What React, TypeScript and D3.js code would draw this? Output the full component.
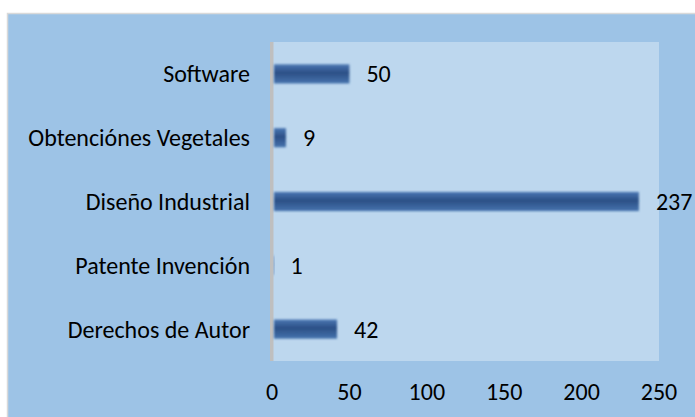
import * as d3 from 'd3';
import React, { useRef, useEffect } from 'react';

const categories = ['Software', 'Obtenciónes Vegetales', 'Diseño Industrial', 'Patente Invención', 'Derechos de Autor'];
const values = [50, 9, 237, 1, 42];
const ticks = [0, 50, 100, 150, 200, 250];

const W = 695, H = 417;
const plot = { left: 272, right: 659, top: 42, bottom: 361 };
const FONT = 'Carlito, Lato, sans-serif';

function App() {
    const ref = useRef<SVGSVGElement>(null);

    useEffect(() => {
        const svg = d3.select(ref.current);
        svg.selectAll('*').remove();

        const defs = svg.append('defs');
        const grad = defs.append('linearGradient')
            .attr('id', 'barGrad')
            .attr('x1', 0).attr('y1', 0).attr('x2', 0).attr('y2', 1);
        grad.append('stop').attr('offset', '0%').attr('stop-color', '#4a77b3');
        grad.append('stop').attr('offset', '45%').attr('stop-color', '#2c4f86');
        grad.append('stop').attr('offset', '100%').attr('stop-color', '#4674ae');
        defs.append('filter').attr('id', 'soft')
            .append('feGaussianBlur').attr('stdDeviation', 0.8);

        // chart background
        svg.append('rect')
            .attr('x', 7.5).attr('y', 13.5)
            .attr('width', W).attr('height', H)
            .attr('fill', '#9dc3e6')
            .attr('stroke', '#d9d9d9')
            .attr('stroke-width', 1.5);

        var x = d3.scaleLinear().domain([0, 250]).range([plot.left, plot.right]);
        var y = d3.scaleBand().domain(categories).range([plot.top, plot.bottom]).paddingInner(0.7).paddingOuter(0.35);

        // plot area
        svg.append('rect')
            .attr('x', plot.left - 2).attr('y', plot.top)
            .attr('width', plot.right - plot.left + 2).attr('height', plot.bottom - plot.top)
            .attr('fill', '#bdd7ee');

        // vertical axis line
        svg.append('rect')
            .attr('x', plot.left - 2).attr('y', plot.top)
            .attr('width', 3.5).attr('height', plot.bottom - plot.top)
            .attr('fill', '#bfbfbf');

        // bars
        svg.append('g').selectAll('rect')
            .data(values)
            .enter().append('rect')
            .attr('x', x(0) + 2)
            .attr('y', (d, i) => y(categories[i]))
            .attr('width', d => Math.max(0.6, x(d) - x(0) - 2))
            .attr('height', y.bandwidth())
            .attr('fill', 'url(#barGrad)')
            .attr('filter', 'url(#soft)');

        // value labels
        svg.append('g').selectAll('text')
            .data(values)
            .enter().append('text')
            .attr('x', d => x(d) + 17)
            .attr('y', (d, i) => y(categories[i]) + y.bandwidth() / 2)
            .attr('dy', '0.35em')
            .style('font-family', FONT)
            .style('font-size', '24px')
            .attr('fill', '#000')
            .text(d => d);

        // category labels
        svg.append('g').selectAll('text')
            .data(categories)
            .enter().append('text')
            .attr('x', plot.left - 22)
            .attr('y', d => y(d) + y.bandwidth() / 2)
            .attr('dy', '0.35em')
            .attr('text-anchor', 'end')
            .style('font-family', FONT)
            .style('font-size', '24px')
            .attr('fill', '#000')
            .text(d => d);

        // x tick labels
        svg.append('g').selectAll('text')
            .data(ticks)
            .enter().append('text')
            .attr('x', d => x(d))
            .attr('y', 392)
            .attr('dy', '0.35em')
            .attr('text-anchor', 'middle')
            .style('font-family', FONT)
            .style('font-size', '24px')
            .attr('fill', '#000')
            .text(d => d);
    }, []);

    return (
        <div style={{ position: 'fixed', left: 0, top: 0, background: '#fff' }}>
            <svg ref={ref} width={W} height={H}></svg>
        </div>
    );
}

export default App;
